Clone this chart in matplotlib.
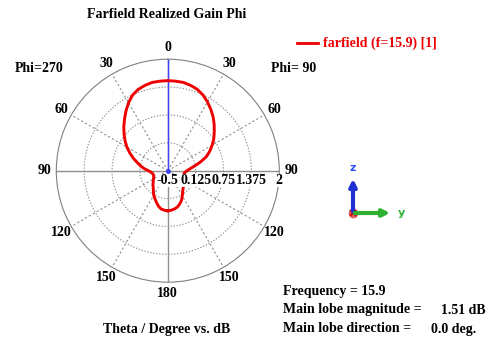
import numpy as np
import matplotlib.pyplot as plt

plt.rcParams['font.family'] = ['Liberation Serif', 'DejaVu Serif']
plt.rcParams['font.weight'] = 'bold'

# theta (deg) and realized gain (dB)
theta_deg = [0, 5, 10, 15, 20, 25, 30, 35, 40, 45, 50, 55, 60, 65, 70, 75, 80, 85, 90,
             95, 100, 105, 110, 115, 120, 125, 130, 135, 140, 145, 150, 155, 160, 165, 170, 175, 180]
gain_phi90 = [1.52, 1.515, 1.51, 1.48, 1.44, 1.37, 1.28, 1.18, 1.08, 0.97, 0.86, 0.76, 0.65,
              0.54, 0.42, 0.26, 0.11, 0.0, -0.07, -0.11, -0.13, -0.14, -0.135, -0.12, -0.10,
              -0.07, -0.03, 0.0, 0.03, 0.08, 0.15, 0.23, 0.29, 0.34, 0.37, 0.39, 0.40]
gain_phi270 = [1.52, 1.515, 1.51, 1.48, 1.44, 1.37, 1.26, 1.135, 1.01, 0.895, 0.78, 0.67, 0.56,
               0.44, 0.325, 0.21, 0.12, 0.03, -0.065, -0.12, -0.15, -0.165, -0.165, -0.15, -0.13,
               -0.10, -0.07, -0.03, 0.005, 0.065, 0.13, 0.19, 0.25, 0.32, 0.37, 0.39, 0.40]

r_ticks = [-0.5, 0.125, 0.75, 1.375, 2]
r_labels = ['-0.5', '0.125', '0.75', '1.375', '2']
angle_labels = [0, 30, 60, 90, 120, 150, 180, 150, 120, 90, 60, 30]

W, H = 500, 339
fig = plt.figure(figsize=(W / 100, H / 100), dpi=100)

# polar plot, center (167.8, 170.7) px, radius 111.5 px
cx, cy, rad = 167.8, 170.7, 111.5
ax = fig.add_axes([(cx - rad) / W, (H - cy - rad) / H, 2 * rad / W, 2 * rad / H], projection='polar')
ax.set_theta_zero_location('N')
ax.set_theta_direction(-1)
ax.set_ylim(r_ticks[0], r_ticks[-1])
ax.set_xticks([])
ax.set_yticks([])
ax.spines['polar'].set_color('#808080')
ax.spines['polar'].set_linewidth(0.8)

full = np.linspace(0, 2 * np.pi, 361)
for r in r_ticks[1:-1]:
    ax.plot(full, [r] * len(full), color='#909090', lw=0.8, ls=(0, (1.2, 1.5)), zorder=1)
for a in range(0, 360, 30):
    t = np.radians(a)
    if a % 90 == 0:
        ax.plot([t, t], [r_ticks[0], r_ticks[-1]], color='#909090', lw=1.0, zorder=1)
    else:
        ax.plot([t, t], [r_ticks[0], r_ticks[-1]], color='#909090', lw=0.8, ls=(0, (2, 2)), zorder=1)

# main lobe direction
ax.plot([0, 0], [r_ticks[0], r_ticks[-1]], color='#4040ff', lw=1.0, zorder=2)
ax.plot([0], [r_ticks[0]], 'o', color='#4040ff', ms=2.5, zorder=2)

th = np.radians(theta_deg)
theta_curve = np.concatenate([-th[::-1], th[1:]])
gain_curve = np.concatenate([gain_phi270[::-1], gain_phi90[1:]])
ax.plot(theta_curve, gain_curve, color='#ee0000', lw=2.1, zorder=3, solid_joinstyle='round')

# angle labels
r_lab = r_ticks[0] + 1.105 * (r_ticks[-1] - r_ticks[0])
for i, lab in enumerate(angle_labels):
    ax.text(np.radians(30 * i), r_lab, str(lab), ha='center', va='center',
            fontsize=10, fontweight='bold', clip_on=False)

# radial labels
for r, lab in zip(r_ticks, r_labels):
    ax.annotate(lab, xy=(np.pi / 2, r), xytext=(0, -7), textcoords='offset points',
                ha='center', va='center', fontsize=10, fontweight='bold', zorder=4,
                bbox=dict(boxstyle='square,pad=0.02', fc='white', ec='none'))

# overlay in pixel coordinates for the other texts and the axis triad
ov = fig.add_axes([0, 0, 1, 1], facecolor='none')
ov.set_xlim(0, W)
ov.set_ylim(H, 0)
ov.axis('off')

ov.text(167, 14, 'Farfield Realized Gain Phi', ha='center', va='center', fontsize=10, fontweight='bold')
ov.text(15, 68, 'Phi=270', ha='left', va='center', fontsize=10, fontweight='bold')
ov.text(271, 68, 'Phi= 90', ha='left', va='center', fontsize=10, fontweight='bold')
ov.plot([297, 318], [43, 43], color='#ee0000', lw=2.0)
ov.text(323, 43, 'farfield (f=15.9) [1]', ha='left', va='center', fontsize=10,
        fontweight='bold', color='#ee0000')
ov.text(167, 329, 'Theta / Degree vs. dB', ha='center', va='center', fontsize=10, fontweight='bold')
ov.text(283, 292, 'Frequency = 15.9', ha='left', va='center', fontsize=10, fontweight='bold')
ov.text(283, 310, 'Main lobe magnitude =', ha='left', va='center', fontsize=10, fontweight='bold')
ov.text(486, 310, '1.51 dB', ha='right', va='center', fontsize=10, fontweight='bold')
ov.text(283, 329, 'Main lobe direction =', ha='left', va='center', fontsize=10, fontweight='bold')
ov.text(476, 329, '0.0 deg.', ha='right', va='center', fontsize=10, fontweight='bold')

ov.annotate('', xy=(353, 176), xytext=(353, 214),
            arrowprops=dict(arrowstyle='-|>', color='#2030d0', lw=3, mutation_scale=10))
ov.annotate('', xy=(393, 213), xytext=(352, 213),
            arrowprops=dict(arrowstyle='-|>', color='#30b030', lw=3, mutation_scale=10))
ov.plot([353], [213], 'o', color='#e06060', ms=6)
ov.plot([353], [213], 'x', color='#cc0000', ms=4, mew=1.2)
ov.text(353, 168, 'z', ha='center', va='center', fontsize=8, color='#3050ff', family='DejaVu Sans')
ov.text(401, 213, 'y', ha='center', va='center', fontsize=8, color='#30b030', family='DejaVu Sans')

fig.savefig('out.png', dpi=100)
